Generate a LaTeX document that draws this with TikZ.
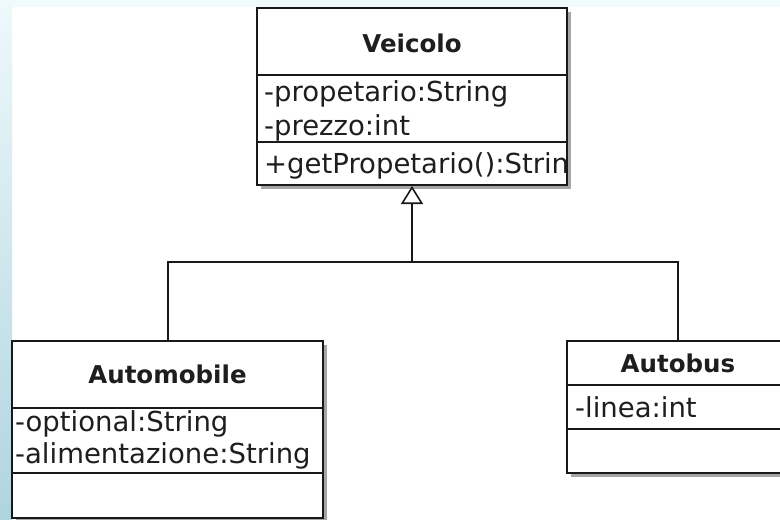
\documentclass[tikz,border=0pt]{standalone}
\usepackage{fontspec}
\setmainfont{DejaVu Sans}
\usetikzlibrary{arrows.meta,shadows}

\definecolor{stripTop}{RGB}{238,249,251}
\definecolor{stripBot}{RGB}{176,212,223}
\definecolor{bandTop}{RGB}{242,251,252}
\definecolor{umlText}{RGB}{30,30,30}

\tikzset{
  umlclass/.style={draw=black!90, line width=2pt, fill=white, inner sep=0pt,
    drop shadow={shadow xshift=4pt, shadow yshift=-4pt, fill=black!35, opacity=1}},
  umltitle/.style={font=\fontsize{24.5}{30}\selectfont\bfseries, text=umlText, anchor=base, inner sep=0pt},
  umlattr/.style={font=\fontsize{27.5}{33}\selectfont, text=umlText, anchor=base west, inner sep=0pt},
  umlsep/.style={draw=black!90, line width=2pt},
  umlline/.style={draw=black!90, line width=2pt},
  umlinherit/.style={draw=black!90, line width=2pt, -{Triangle[open, length=18pt, width=22pt, line width=1.6pt]}}
}

\begin{document}
\begin{tikzpicture}[x=1pt,y=-1pt]
  \useasboundingbox (0,0) rectangle (780,520);
  \clip (0,0) rectangle (780,520);
  % background of the screenshot
  \fill[white] (0,0) rectangle (780,520);
  \fill[bandTop] (0,0) rectangle (780,7);
  \shade[top color=stripTop, bottom color=stripBot] (0,0) rectangle (12,520);

  % superclass
  \node[umlclass, minimum width=310pt, minimum height=177pt] (veicolo) at (412,96.5) {};
  \draw[umlsep] (veicolo.west |- 0,75) -- (veicolo.east |- 0,75);
  \draw[umlsep] (veicolo.west |- 0,142) -- (veicolo.east |- 0,142);
  \node[umltitle] (veicoloName) at (412,52) {Veicolo};
  \node[umlattr] (veicoloA1) at (264,101.7) {-propetario:String};
  \node[umlattr] (veicoloA2) at (264,135) {-prezzo:int};
  \begin{scope}
    \clip (veicolo.south west) rectangle (veicolo.north east);
    \node[umlattr] (veicoloM1) at (264,173) {+getPropetario():Strin};
  \end{scope}

  % subclasses
  \node[umlclass, minimum width=311pt, minimum height=177pt] (automobile) at (167.5,429.5) {};
  \draw[umlsep] (automobile.west |- 0,408) -- (automobile.east |- 0,408);
  \draw[umlsep] (automobile.west |- 0,473) -- (automobile.east |- 0,473);
  \node[umltitle] (automobileName) at (167.5,383) {Automobile};
  \node[umlattr] (automobileA1) at (15,431.7) {-optional:String};
  \node[umlattr] (automobileA2) at (15,463) {-alimentazione:String};

  \node[umlclass, minimum width=222pt, minimum height=132pt] (autobus) at (678,407) {};
  \draw[umlsep] (autobus.west |- 0,385) -- (autobus.east |- 0,385);
  \draw[umlsep] (autobus.west |- 0,429) -- (autobus.east |- 0,429);
  \node[umltitle] (autobusName) at (678,372) {Autobus};
  \node[umlattr] (autobusA1) at (575,417) {-linea:int};

  % generalization
  \coordinate (hub) at (412,262);
  \draw[umlinherit] (hub) -- (veicolo.south);
  \draw[umlline] (automobile.north) |- (hub) -| (autobus.north);
\end{tikzpicture}
\end{document}
